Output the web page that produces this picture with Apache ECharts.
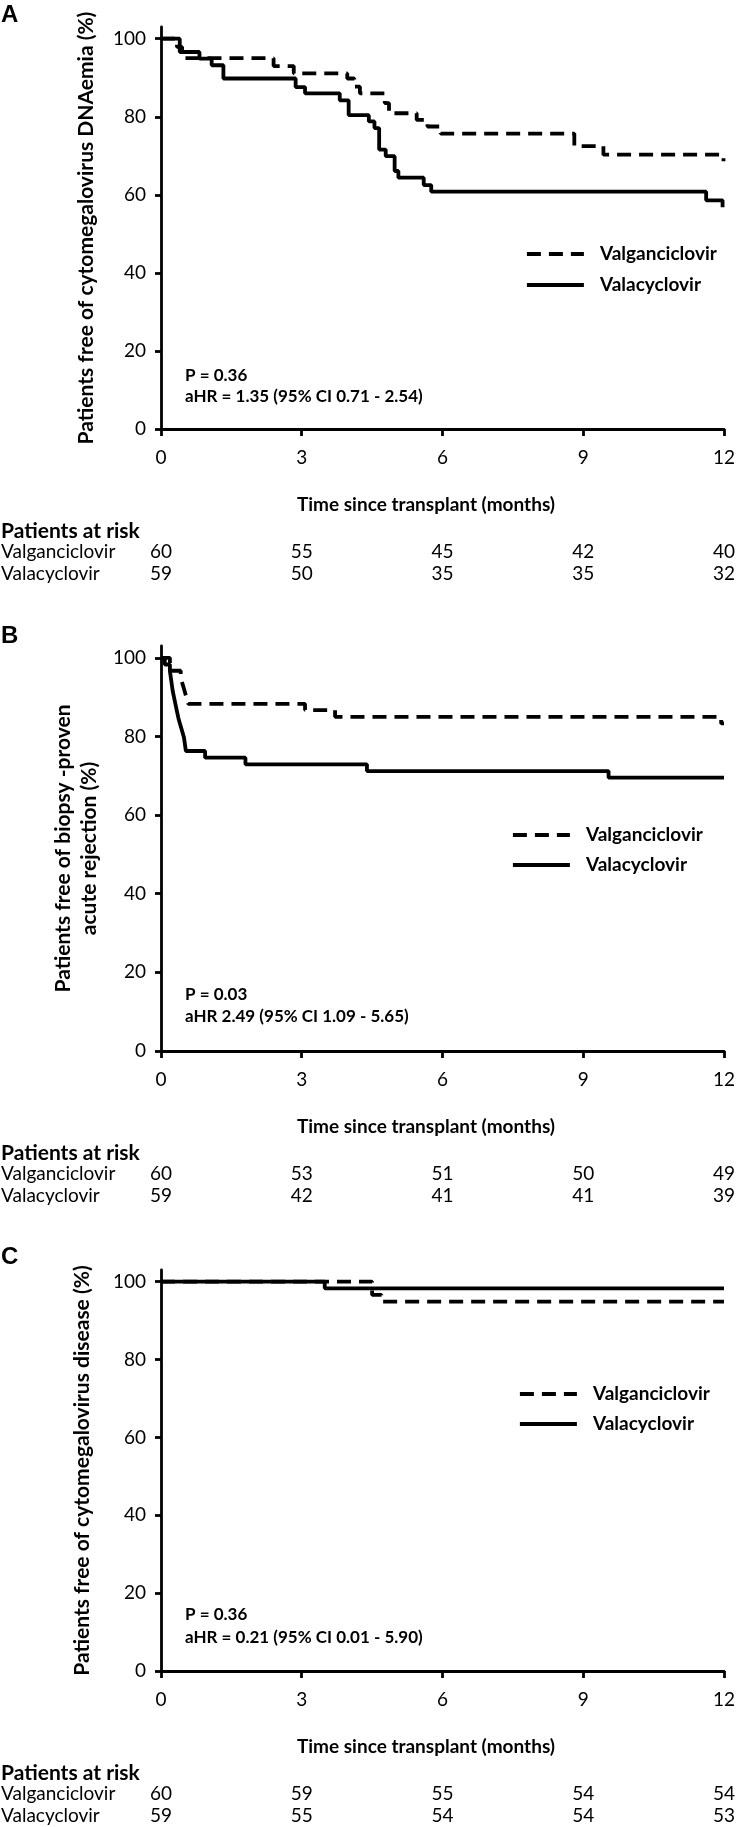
<!DOCTYPE html>
<html>
<head>
<meta charset="utf-8">
<script src="https://cdn.jsdelivr.net/npm/echarts@6/dist/echarts.min.js"></script>
<style>
html,body{margin:0;padding:0;background:#fff;}
#chart{width:738px;height:1827px;}
</style>
</head>
<body>
<div id="chart"></div>
<script>
// ---------------- DATA ----------------
const monthTicks = [0, 3, 6, 9, 12];
const percentTicks = [0, 20, 40, 60, 80, 100];
const seriesNames = ['Valganciclovir', 'Valacyclovir'];
const panelLetters = ['A', 'B', 'C'];
const xTitle = 'Time since transplant (months)';
const riskTitle = 'Patients at risk';

// Panel A – freedom from cytomegalovirus DNAemia
const aValganTime = [0, 0.34, 0.45, 2.40, 2.83, 3.97, 4.12, 4.24, 4.77, 4.86, 5.45, 5.68, 5.96, 8.81, 9.43, 11.99];
const aValganPct  = [100, 97.9, 95.0, 93.0, 91.1, 89.8, 87.7, 86.0, 83.5, 80.9, 79.2, 77.5, 75.7, 72.5, 70.3, 68.6];
const aValacTime  = [0, 0.40, 0.82, 1.08, 1.33, 2.87, 3.07, 3.81, 4.00, 4.43, 4.55, 4.65, 4.79, 4.98, 5.06, 5.60, 5.76, 11.62, 11.97];
const aValacPct   = [100, 96.6, 94.9, 93.2, 89.8, 87.6, 86.0, 84.2, 80.4, 78.8, 77.1, 71.6, 69.9, 66.1, 64.4, 62.5, 60.8, 58.6, 56.8];
const aRiskValgan = [60, 55, 45, 42, 40];
const aRiskValac  = [59, 50, 35, 35, 32];
const aYTitle = 'Patients free of cytomegalovirus DNAemia (%)';
const aStats = ['P = 0.36', 'aHR = 1.35 (95% CI 0.71 - 2.54)'];

// Panel B – freedom from biopsy-proven acute rejection
const bValganTime = [0, 0.19, 0.42, 0.46, 0.50, 0.54, 0.58, 3.07, 3.71, 11.94, 12];
const bValganPct  = [100, 96.7, 95.0, 93.3, 91.7, 90.0, 88.3, 86.7, 85.0, 83.3, 83.3];
const bValacTime  = [0, 0.08, 0.19, 0.21, 0.23, 0.25, 0.28, 0.31, 0.34, 0.37, 0.41, 0.45, 0.49, 0.53, 0.94, 1.80, 4.39, 9.54, 12];
const bValacPct   = [100, 98.3, 96.6, 94.9, 93.2, 91.5, 89.8, 88.1, 86.4, 84.7, 83.0, 81.4, 79.7, 76.3, 74.6, 72.9, 71.2, 69.5, 69.5];
const bRiskValgan = [60, 53, 51, 50, 49];
const bRiskValac  = [59, 42, 41, 41, 39];
const bYTitle = 'Patients free of biopsy -proven\nacute rejection (%)';
const bStats = ['P = 0.03', 'aHR 2.49 (95% CI 1.09 - 5.65)'];

// Panel C – freedom from cytomegalovirus disease
const cValganTime = [0, 4.50, 4.70, 12];
const cValganPct  = [100, 96.6, 94.9, 94.9];
const cValacTime  = [0, 3.49, 12];
const cValacPct   = [100, 98.3, 98.3];
const cRiskValgan = [60, 59, 55, 54, 54];
const cRiskValac  = [59, 55, 54, 54, 53];
const cYTitle = 'Patients free of cytomegalovirus disease (%)';
const cStats = ['P = 0.36', 'aHR = 0.21 (95% CI 0.01 - 5.90)'];

// ---------------- BUILD ----------------
const panels = [
  {vgT: aValganTime, vgP: aValganPct, vcT: aValacTime, vcP: aValacPct, rVg: aRiskValgan, rVc: aRiskValac, yTitle: aYTitle, stats: aStats},
  {vgT: bValganTime, vgP: bValganPct, vcT: bValacTime, vcP: bValacPct, rVg: bRiskValgan, rVc: bRiskValac, yTitle: bYTitle, stats: bStats},
  {vgT: cValganTime, vgP: cValganPct, vcT: cValacTime, vcP: cValacPct, rVg: cRiskValgan, rVc: cRiskValac, yTitle: cYTitle, stats: cStats}
];

// layout (pixels)
const layout = [
  {top: 27,   height: 402, letterY: 15,   legendLeft: 525, legendTop: 244,  legendGap: 11, nameGap: 62, statDy: [-53, -32]},
  {top: 646,  height: 405, letterY: 636,  legendLeft: 511, legendTop: 825,  legendGap: 10, nameGap: 55, statDy: [-56, -34]},
  {top: 1270, height: 401, letterY: 1257, legendLeft: 518, legendTop: 1384, legendGap: 10, nameGap: 66, statDy: [-56, -33]}
];

const FONT = 'Lato, "Open Sans", sans-serif';
const BLACK = '#000';
const AXIS_W = 2.8;
const CURVE_W = 3.8;
const DASH = [14, 8];

function zip(t, p) { return t.map((v, k) => [v, p[k]]); }

const grids = [], xAxes = [], yAxes = [], series = [], legends = [];
panels.forEach((p, i) => {
  const L = layout[i];
  grids.push({left: 161, right: 14, top: L.top, height: L.height});
  xAxes.push({
    type: 'value', gridIndex: i, min: 0, max: 12, interval: 3,
    name: xTitle, nameLocation: 'middle', nameGap: 66,
    nameTextStyle: {fontFamily: FONT, fontWeight: 'bold', fontSize: 19, color: BLACK, padding: [0, 33, 0, 0]},
    axisLine: {show: true, onZero: false, lineStyle: {color: BLACK, width: AXIS_W}},
    axisTick: {show: true, length: 7, lineStyle: {color: BLACK, width: AXIS_W}},
    axisLabel: {margin: 19, fontFamily: FONT, fontSize: 19, color: BLACK, customValues: monthTicks},
    splitLine: {show: false}
  });
  yAxes.push({
    type: 'value', gridIndex: i, min: 0, max: 103, interval: 20,
    name: p.yTitle, nameLocation: 'middle', nameGap: L.nameGap,
    nameTextStyle: {fontFamily: FONT, fontWeight: 'bold', fontSize: 21, color: BLACK, lineHeight: 26},
    axisLine: {show: true, onZero: false, lineStyle: {color: BLACK, width: AXIS_W}},
    axisTick: {show: true, length: 6, lineStyle: {color: BLACK, width: AXIS_W}, customValues: percentTicks},
    axisLabel: {margin: 15, fontFamily: FONT, fontSize: 19, color: BLACK, customValues: percentTicks,
      formatter: v => (percentTicks.indexOf(v) >= 0 ? String(v) : '')},
    splitLine: {show: false}
  });
  series.push({
    name: seriesNames[0], type: 'line', xAxisIndex: i, yAxisIndex: i, step: 'end',
    symbol: 'none', clip: false, silent: true, z: 3,
    data: zip(p.vgT, p.vgP),
    itemStyle: {color: BLACK},
    lineStyle: {color: BLACK, width: CURVE_W, type: DASH}
  });
  series.push({
    name: seriesNames[1], type: 'line', xAxisIndex: i, yAxisIndex: i, step: 'end',
    symbol: 'none', clip: false, silent: true, z: 2,
    data: zip(p.vcT, p.vcP),
    itemStyle: {color: BLACK},
    lineStyle: {color: BLACK, width: CURVE_W, type: 'solid'}
  });
  legends.push({
    data: seriesNames, orient: 'vertical', left: L.legendLeft, top: L.legendTop,
    itemWidth: 57, itemHeight: 20, itemGap: L.legendGap, padding: 0, selectedMode: false,
    itemStyle: {opacity: 0, color: 'rgba(0,0,0,0)', borderWidth: 0},
    lineStyle: {color: BLACK, width: CURVE_W},
    textStyle: {fontFamily: FONT, fontWeight: 'bold', fontSize: 19, color: BLACK, padding: [0, 0, 0, 11], lineHeight: 20}
  });
});

const chart = echarts.init(document.getElementById('chart'), null, {renderer: 'canvas', width: 738, height: 1827});
chart.setOption({
  animation: false,
  backgroundColor: '#fff',
  grid: grids, xAxis: xAxes, yAxis: yAxes, series: series, legend: legends
});

// text overlays positioned from the axes' own scales
const graphics = [];
panels.forEach((p, i) => {
  const L = layout[i];
  const y0 = chart.convertToPixel({gridIndex: i}, [0, 0])[1];
  graphics.push({type: 'text', x: 1, y: L.letterY,
    style: {text: panelLetters[i], fontFamily: '"Liberation Sans", Arial, sans-serif', fontWeight: 'bold', fontSize: 24, fill: BLACK, align: 'left', verticalAlign: 'middle'}});
  p.stats.forEach((s, k) => {
    graphics.push({type: 'text', x: 185, y: y0 + L.statDy[k],
      style: {text: s, fontFamily: FONT, fontWeight: 'bold', fontSize: 17, fill: BLACK, align: 'left', verticalAlign: 'middle'}});
  });
  graphics.push({type: 'text', x: 1, y: y0 + 102,
    style: {text: riskTitle, fontFamily: FONT, fontWeight: 'bold', fontSize: 21, fill: BLACK, align: 'left', verticalAlign: 'middle'}});
  const rows = [[seriesNames[0], p.rVg, 123], [seriesNames[1], p.rVc, 145]];
  rows.forEach(r => {
    graphics.push({type: 'text', x: 1, y: y0 + r[2],
      style: {text: r[0], fontFamily: FONT, fontSize: 19, fill: BLACK, align: 'left', verticalAlign: 'middle'}});
    monthTicks.forEach((m, k) => {
      const x = chart.convertToPixel({gridIndex: i}, [m, 0])[0];
      graphics.push({type: 'text', x: x, y: y0 + r[2],
        style: {text: String(r[1][k]), fontFamily: FONT, fontSize: 19, fill: BLACK, align: 'center', verticalAlign: 'middle'}});
    });
  });
});
chart.setOption({graphic: graphics});
</script>
</body>
</html>
